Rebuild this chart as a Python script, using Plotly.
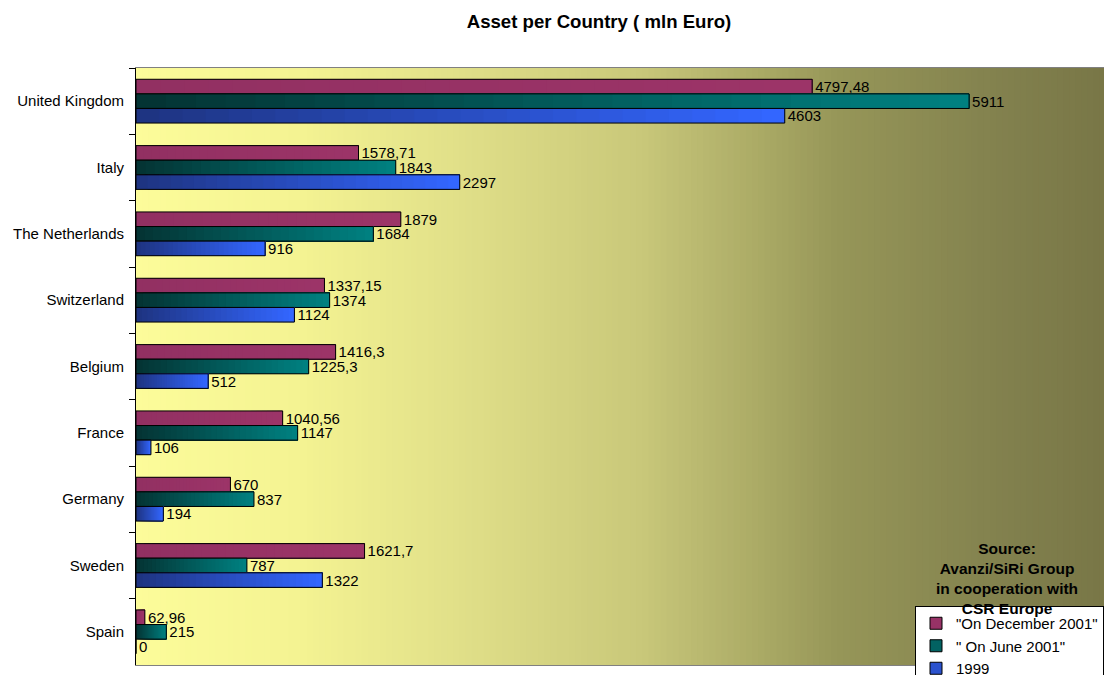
import plotly.graph_objects as go

# ---------------- data ----------------
countries = ["United Kingdom", "Italy", "The Netherlands", "Switzerland", "Belgium",
             "France", "Germany", "Sweden", "Spain"]
dec_2001 = [4797.48, 1578.71, 1879, 1337.15, 1416.3, 1040.56, 670, 1621.7, 62.96]
jun_2001 = [5911, 1843, 1684, 1374, 1225.3, 1147, 837, 787, 215]
y_1999 = [4603, 2297, 916, 1124, 512, 106, 194, 1322, 0]
series_names = ['"On December 2001"', '" On June 2001"', '1999']

# ---------------- styles ----------------
FONT = "Liberation Sans, Arial, sans-serif"
N_SEG = 28
W, H = 1104, 667   # page body has an 8px margin


def lab(v):
    return f"{v:g}".replace(".", ",")


def lerp(c0, c1, t):
    return tuple(round(a + (b - a) * t) for a, b in zip(c0, c1))


def rgb(c):
    return f"rgb({c[0]},{c[1]},{c[2]})"


series = [
    (series_names[0], dec_2001, (146, 48, 98), (156, 52, 104), "g_dec"),
    (series_names[1], jun_2001, (4, 52, 52), (0, 128, 128), "g_jun"),
    (series_names[2], y_1999, (30, 52, 130), (51, 102, 255), "g_99"),
]

fig = go.Figure()

for name, vals, c0, c1, grp in series:
    # gradient fill segments (each runs from its start to the bar end)
    for k in range(N_SEG):
        t = k / (N_SEG - 1)
        fig.add_trace(go.Bar(
            y=countries, x=[v * (N_SEG - k) / N_SEG for v in vals],
            base=[v * k / N_SEG for v in vals], orientation="h",
            offsetgroup=grp, marker=dict(color=rgb(lerp(c0, c1, t)), line=dict(width=0)),
            showlegend=False, hoverinfo="skip"))
    # outline + labels
    fig.add_trace(go.Bar(
        y=countries, x=vals, orientation="h", offsetgroup=grp,
        marker=dict(color="rgba(0,0,0,0)", line=dict(color="black", width=1)),
        text=[lab(v) for v in vals], textposition="outside", constraintext="none",
        textfont=dict(family=FONT, size=15, color="black"), cliponaxis=False,
        showlegend=False, name=name))

# legend-only entries
for name, vals, c0, c1, grp in series:
    fig.add_trace(go.Bar(
        y=[countries[0]], x=[None], orientation="h", offsetgroup=grp, name=name,
        marker=dict(color=rgb(lerp(c0, c1, 0.6)), line=dict(color="black", width=1)),
        showlegend=True, hoverinfo="skip"))

# background gradient strips
stops = [(0.0, (252, 252, 154)), (0.168, (244, 243, 146)), (0.311, (227, 226, 138)),
         (0.516, (201, 200, 122)), (0.721, (150, 150, 88)), (0.885, (130, 129, 78)),
         (1.0, (120, 118, 70))]


def bg_color(f):
    for (f0, ca), (f1, cb) in zip(stops[:-1], stops[1:]):
        if f0 <= f <= f1:
            return rgb(lerp(ca, cb, (f - f0) / (f1 - f0)))
    return rgb(stops[-1][1])


shapes = []
NS = 160
for i in range(NS):
    shapes.append(dict(type="rect", xref="paper", yref="paper",
                       x0=i / NS, x1=(i + 1) / NS + 0.002, y0=0, y1=1,
                       fillcolor=bg_color((i + 0.5) / NS), line=dict(width=0),
                       layer="below"))

fig.update_layout(
    width=W, height=H,
    margin=dict(l=128, r=0, t=60, b=10, autoexpand=False),
    paper_bgcolor="white", plot_bgcolor="rgba(0,0,0,0)",
    barmode="group", bargap=0.34, bargroupgap=0,
    font=dict(family=FONT, size=15, color="black"),
    title=dict(text="<b>Asset per Country ( mln Euro)</b>", xref="container", yref="container",
               x=591 / W, xanchor="center", y=1 - 13.5 / H, yanchor="middle",
               font=dict(family=FONT, size=18.6, color="black")),
    xaxis=dict(range=[0, 6925], showticklabels=False, showgrid=False, zeroline=False,
               showline=True, linecolor="#808080", linewidth=1, mirror=True, ticks="",
               automargin=False),
    yaxis=dict(categoryorder="array", categoryarray=countries, autorange="reversed",
               showgrid=False, zeroline=False, showline=True, linecolor="black", linewidth=1,
               ticks="outside", ticklen=6, tickcolor="black", tickson="boundaries",
               ticklabelstandoff=8, automargin=False,
               tickfont=dict(family=FONT, size=15, color="black")),
    legend=dict(xref="container", yref="container", x=907 / W, xanchor="left",
                y=1 - 598 / H, yanchor="top",
                bgcolor="white", bordercolor="black", borderwidth=1,
                font=dict(family=FONT, size=15, color="black"),
                itemwidth=30, tracegroupgap=0),
    shapes=shapes,
    annotations=[dict(text="<b>Source:<br>Avanzi/SiRi Group<br>in cooperation with<br>CSR Europe</b>",
                      xref="paper", yref="paper", x=0.8925, y=0.213, xanchor="center",
                      yanchor="top", showarrow=False, align="center",
                      font=dict(family=FONT, size=15.5, color="black"))],
)

fig.write_html("out.html")
